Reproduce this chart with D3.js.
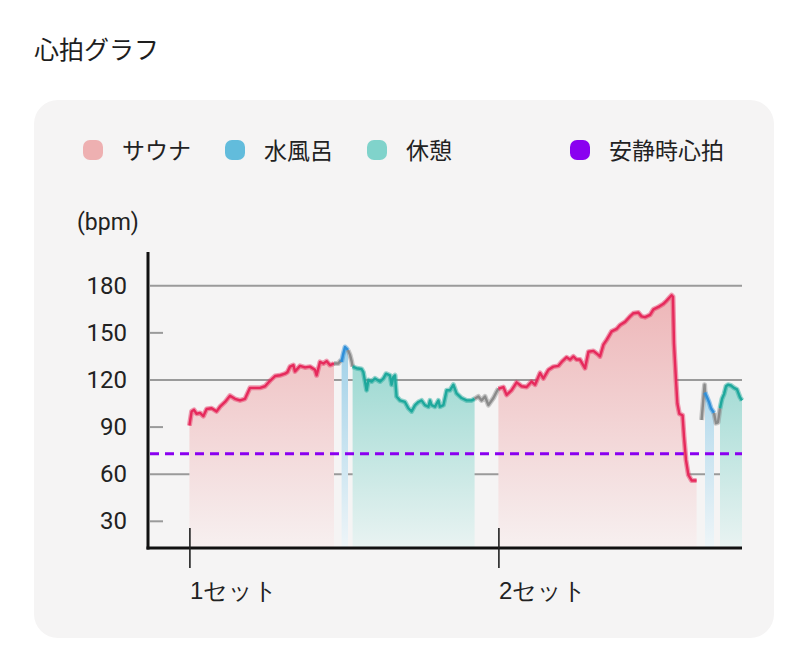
<!DOCTYPE html>
<html>
<head>
<meta charset="utf-8">
<script src="https://cdn.jsdelivr.net/npm/d3@7"></script>
<style>
  body { margin: 0; background: #fff; }
  svg { display: block; font-family: Roboto, "Noto Sans CJK JP", sans-serif; }
</style>
</head>
<body>
<svg id="chart" width="800" height="662"></svg>
<script>
// time in seconds from start of recording, heart rate in bpm
const sauna1 = [[207,91],[218,100],[230,101],[243,98.5],[260,99],[277,97],[293,101.5],[318,102],[343,100],[360,103],[385,106],[410,110],[435,108],[460,107],[485,108],[510,115],[535,115],[560,115],[585,116],[610,119.5],[635,122.5],[660,123],[685,124],[697,125],[710,128.5],[727,129.5],[735,125.5],[760,129],[785,128],[810,128.5],[835,126.5],[843,123],[860,131.5],[877,130.5],[893,132],[910,129.5],[930,130.5]];
const move1 = [[930,130.5],[952,130.5],[960,132],[968,131.5]];
const cold1 = [[968,131.5],[975,136],[985,141],[993,140],[1000,139]];
const move2 = [[1000,139],[1010,136],[1018,132],[1023,128.5]];
const rest1 = [[1023,128.5],[1043,127.5],[1068,127],[1077,125],[1093,113.5],[1102,120],[1118,119],[1135,121],[1160,119],[1177,121],[1190,124],[1210,123],[1218,117],[1227,122],[1235,123],[1243,109.5],[1260,107],[1285,106],[1302,102],[1318,100],[1335,104],[1352,106],[1368,107],[1385,104],[1402,103],[1410,107],[1418,104],[1435,103],[1452,107],[1460,103],[1477,104],[1493,113.5],[1510,113.5],[1527,117],[1543,111.5],[1568,108.5],[1593,107],[1618,107],[1633,108]];
const move3 = [[1633,108],[1652,109.5],[1668,107],[1685,109.5],[1702,104],[1727,108.5],[1743,112.5],[1752,114.5]];
const sauna2 = [[1752,114.5],[1777,115.5],[1793,110.5],[1818,113.5],[1843,118.5],[1868,116],[1893,115.5],[1918,119],[1935,117],[1960,124.5],[1977,121],[2002,126.5],[2027,128.5],[2052,129],[2068,131.5],[2093,134.5],[2110,133],[2127,135],[2143,133],[2160,133],[2185,127.5],[2202,138],[2227,138.5],[2252,136],[2260,135],[2277,142.5],[2293,145.5],[2318,151],[2343,152.5],[2360,155],[2385,157],[2410,160.5],[2427,162.5],[2452,163],[2468,160.5],[2485,160],[2510,161.5],[2527,165],[2552,166.5],[2577,168.5],[2593,170.5],[2618,174],[2625,173],[2630,143.5],[2640,120],[2647,105],[2657,98.5],[2673,97.5],[2680,84],[2690,69],[2702,59.5],[2718,56],[2743,56]];
const move4 = [[2768,94.5],[2775,105],[2783,117],[2785,112]];
const cold2 = [[2785,112],[2795,109],[2805,106],[2815,102],[2830,99]];
const move5 = [[2830,99],[2840,92.5],[2850,93],[2860,102]];
const rest2 = [[2860,102],[2870,108],[2880,111],[2890,116],[2900,117],[2915,116.5],[2930,115],[2945,114],[2960,109],[2970,107]];

const yTicks = [30, 60, 90, 120, 150, 180];
const yGridTicks = [60, 120, 180];
const setLabels = ["1セット", "2セット"];
const restingHR = 73;
const legendLabels = ["サウナ", "水風呂", "休憩", "安静時心拍"];
const legendColors = ["#eeb0b1", "#62bcdc", "#80d3cb", "#8a00f0"];

const styles = {
  sauna: { line: "#e62a5c", top: "#edb4b6", bottom: "#f7f0f0" },
  cold:  { line: "#2f8fd8", top: "#8ac6e3", bottom: "#eef5f8" },
  rest:  { line: "#1ea89c", top: "#7ccec4", bottom: "#e9f3f2" },
  move:  { line: "#8a8a8a" }
};

const segments = [
  { data: sauna1, kind: "sauna" }, { data: move1, kind: "move" },
  { data: cold1, kind: "cold" }, { data: move2, kind: "move" },
  { data: rest1, kind: "rest" }, { data: move3, kind: "move" },
  { data: sauna2, kind: "sauna" }, { data: move4, kind: "move" },
  { data: cold2, kind: "cold" }, { data: move5, kind: "move" },
  { data: rest2, kind: "rest" }
];
const setStarts = [sauna1[0][0], sauna2[0][0]];

const svg = d3.select("#chart");

svg.append("text").attr("x", 34).attr("y", 59)
  .attr("font-size", 25).attr("fill", "#1e1e1e").text("心拍グラフ");

svg.append("rect").attr("x", 34).attr("y", 100).attr("width", 740).attr("height", 538)
  .attr("rx", 24).attr("fill", "#f5f4f4");

// legend
const legendX = [93, 235, 377, 580];
legendLabels.forEach((label, i) => {
  svg.append("rect").attr("x", legendX[i] - 10).attr("y", 140).attr("width", 20).attr("height", 20)
    .attr("rx", 7).attr("fill", legendColors[i]);
  svg.append("text").attr("x", legendX[i] + 29).attr("y", 159)
    .attr("font-size", 23).attr("fill", "#222").text(label);
});

const x = d3.scaleLinear().domain([0, 2970]).range([148, 742]);
const y = d3.scaleLinear().domain([13, 201.5]).range([548, 252]);

svg.append("text").attr("x", 77).attr("y", 230).attr("font-size", 23).attr("fill", "#222").text("(bpm)");

// gradients
const defs = svg.append("defs");
["sauna", "cold", "rest"].forEach((k) => {
  const g = defs.append("linearGradient").attr("id", "grad-" + k)
    .attr("gradientUnits", "userSpaceOnUse")
    .attr("x1", 0).attr("x2", 0).attr("y1", y(180)).attr("y2", y(13));
  g.append("stop").attr("offset", 0).attr("stop-color", styles[k].top);
  g.append("stop").attr("offset", 1).attr("stop-color", styles[k].bottom);
});

// grid
svg.append("g").selectAll("line").data(yTicks).join("line")
  .attr("x1", 150)
  .attr("x2", (d) => yGridTicks.includes(d) ? x(2970) : 163)
  .attr("y1", (d) => y(d)).attr("y2", (d) => y(d))
  .attr("stroke", "#9a9a9a").attr("stroke-width", 2);

// y axis labels
const yAxis = svg.append("g").attr("transform", `translate(${x(0) - 21},0)`)
  .call(d3.axisLeft(y).tickValues(yTicks).tickSize(0).tickPadding(0));
yAxis.select(".domain").remove();
yAxis.selectAll("text").attr("font-size", 24).attr("fill", "#222")
  .attr("font-family", "Roboto, sans-serif");

// areas
const area = d3.area().x((d) => x(d[0])).y0(y(13)).y1((d) => y(d[1]));
const line = d3.line().x((d) => x(d[0])).y((d) => y(d[1]));

segments.filter((s) => s.kind !== "move").forEach((s) => {
  svg.append("path").attr("d", area(s.data)).attr("fill", `url(#grad-${s.kind})`);
});

// resting heart rate
svg.append("line").attr("x1", 150).attr("x2", x(2970))
  .attr("y1", y(restingHR)).attr("y2", y(restingHR))
  .attr("stroke", "#8a00f0").attr("stroke-width", 3).attr("stroke-dasharray", "9,6");

// lines
segments.forEach((s) => {
  svg.append("path").attr("d", line(s.data)).attr("fill", "none")
    .attr("stroke", styles[s.kind].line).attr("stroke-opacity", 0.45)
    .attr("stroke-width", 5).attr("stroke-linejoin", "round");
  svg.append("path").attr("d", line(s.data)).attr("fill", "none")
    .attr("stroke", styles[s.kind].line).attr("stroke-width", 2.4)
    .attr("stroke-linejoin", "round");
});

// axes lines
svg.append("line").attr("x1", x(0)).attr("x2", x(0)).attr("y1", y(201.5)).attr("y2", y(13) + 1.5)
  .attr("stroke", "#111").attr("stroke-width", 3);
svg.append("line").attr("x1", x(0) - 1.5).attr("x2", x(2970)).attr("y1", y(13)).attr("y2", y(13))
  .attr("stroke", "#111").attr("stroke-width", 3);

// x axis with set ticks
const xAxis = svg.append("g").attr("transform", `translate(0,${y(13) - 20})`)
  .call(d3.axisBottom(x).tickValues(setStarts).tickSize(40).tickPadding(0)
    .tickFormat((d, i) => setLabels[i]));
xAxis.select(".domain").remove();
xAxis.selectAll(".tick line").attr("stroke", "#222").attr("stroke-width", 1.6);
xAxis.selectAll(".tick text").attr("text-anchor", "start").attr("dy", 0)
  .attr("y", 71).attr("font-size", 24).attr("fill", "#222");
</script>
</body>
